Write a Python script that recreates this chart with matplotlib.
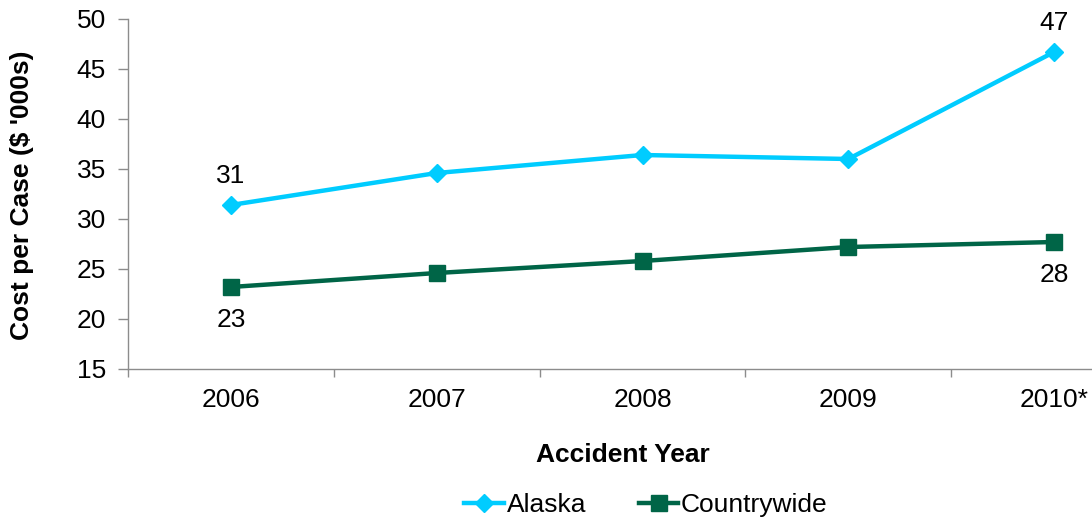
import matplotlib
matplotlib.use("Agg")
import matplotlib.pyplot as plt
from matplotlib.ticker import FixedLocator, NullFormatter

plt.rcParams['font.family'] = ['Liberation Sans', 'DejaVu Sans']

years = ["2006", "2007", "2008", "2009", "2010*"]
alaska = [31.4, 34.6, 36.4, 36.0, 46.7]
countrywide = [23.2, 24.6, 25.8, 27.2, 27.7]
alaska_labels = {0: "31", 4: "47"}
country_labels = {0: "23", 4: "28"}

FS = 19
AXIS_GRAY = "#8c8c8c"
CYAN = "#00ccff"
GREEN = "#006547"

fig = plt.figure(figsize=(10.92, 5.23), dpi=100)
W, H = 1092, 523
ax = fig.add_axes([128 / W, 1 - 369 / H, (1157 - 128) / W, 350 / H])

x = list(range(len(years)))
ax.plot(x, alaska, color=CYAN, lw=3.2, marker="D", ms=9.5, label="Alaska",
        solid_joinstyle="round", zorder=3)
ax.plot(x, countrywide, color=GREEN, lw=3.2, marker="s", ms=11, label="Countrywide",
        zorder=3)

for i, t in alaska_labels.items():
    ax.annotate(t, (x[i], alaska[i]), xytext=(0, 12), textcoords="offset points",
                ha="center", va="bottom", fontsize=FS)
for i, t in country_labels.items():
    ax.annotate(t, (x[i], countrywide[i]), xytext=(0, -15), textcoords="offset points",
                ha="center", va="top", fontsize=FS)

ax.set_xlim(-0.5, len(years) - 0.5)
ax.set_ylim(15, 50)
ax.set_yticks(range(15, 51, 5))

# category boundaries carry the tick marks, centres carry the labels
ax.xaxis.set_major_locator(FixedLocator([i - 0.5 for i in range(len(years) + 1)]))
ax.xaxis.set_major_formatter(NullFormatter())
ax.xaxis.set_minor_locator(FixedLocator(x))
ax.set_xticklabels(years, minor=True)
ax.tick_params(axis="x", which="major", length=6, width=1, color=AXIS_GRAY, direction="out")
ax.tick_params(axis="x", which="minor", length=0, pad=14, labelsize=FS)
ax.tick_params(axis="y", length=7, width=1, color=AXIS_GRAY, pad=9, labelsize=FS)

for s in ("top", "right"):
    ax.spines[s].set_visible(False)
for s in ("left", "bottom"):
    ax.spines[s].set_color(AXIS_GRAY)
    ax.spines[s].set_linewidth(1)

fig.text(623 / W, 1 - 455 / H, "Accident Year", ha="center", va="center",
         fontsize=FS, fontweight="bold")
fig.text(22 / W, 1 - 195 / H, "Cost per Case ($ '000s)", ha="center", va="center",
         rotation=90, fontsize=FS, fontweight="bold")

fig.legend(loc="center", bbox_to_anchor=(646 / W, 1 - 505 / H), ncol=2, frameon=False,
           fontsize=FS, handlelength=1.5, handletextpad=0.1, columnspacing=2.0,
           markerscale=1.0)

fig.savefig("out.png", dpi=100, facecolor="white")
